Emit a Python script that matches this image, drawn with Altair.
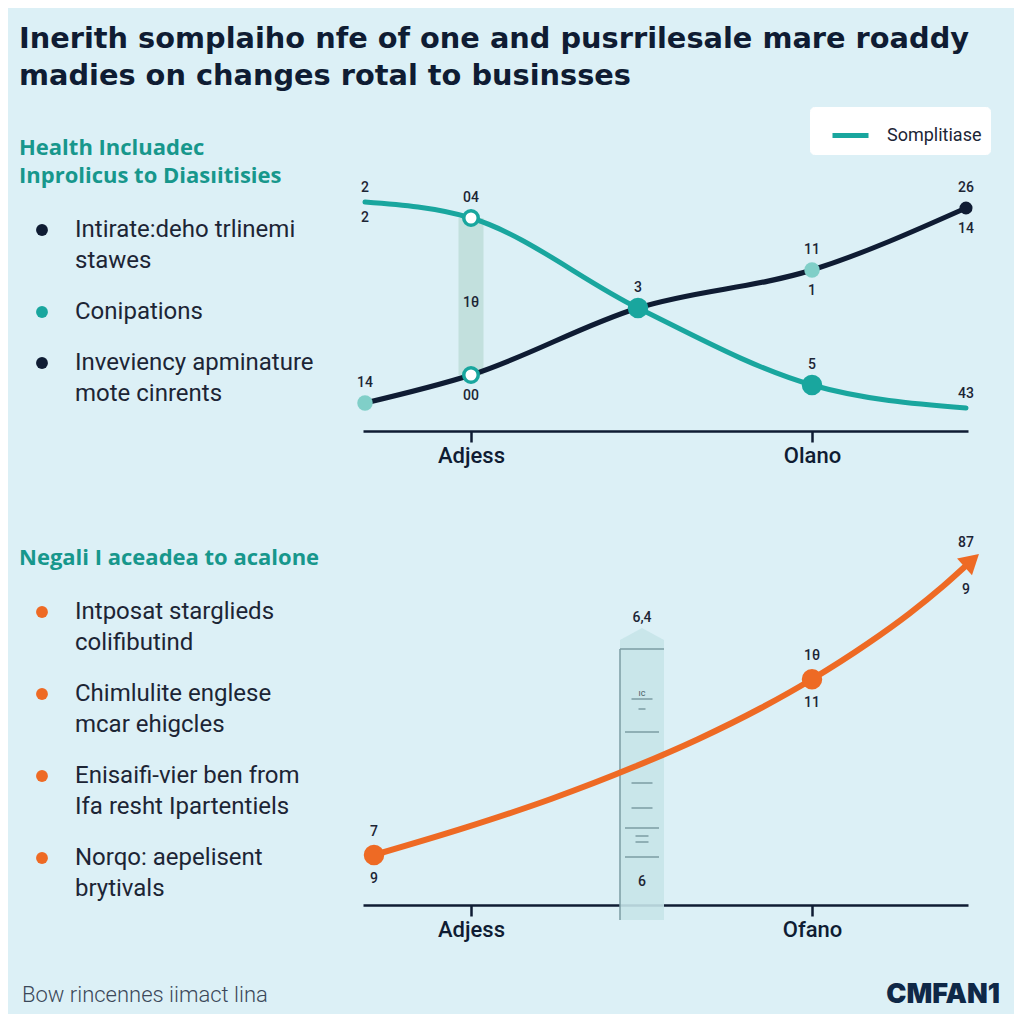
import math
import altair as alt
import pandas as pd

# ---------------- data ----------------
title_lines = [
    "Inerith somplaiho nfe of one and pusrrilesale mare roaddy",
    "madies on changes rotal to businsses",
]
top_heading = ["Health Incluadec", "Inprolicus to Diasıitisies"]
top_items = [
    ["Intirate:deho trlinemi", "stawes"],
    ["Conipations"],
    ["Inveviency apminature", "mote cinrents"],
]
top_item_group = ["navy", "teal", "navy"]

bottom_heading = ["Negali I aceadea to acalone"]
bottom_items = [
    ["Intposat starglieds", "colifibutind"],
    ["Chimlulite englese", "mcar ehigcles"],
    ["Enisaifi-vier ben from", "Ifa resht Ipartentiels"],
    ["Norqo: aepelisent", "brytivals"],
]
bottom_item_group = ["orange", "orange", "orange", "orange"]

footer_left = "Bow rincennes iimact lina"
footer_right = "CMFAN1"

# top chart
top_series_name = "Somplitiase"
top_x = [0.4, 21.6, 55.0, 89.8, 120.6]
teal_vals = [57.25, 53.25, 30.75, 11.5, 5.75]
navy_vals = [7.0, 14.0, 30.75, 40.25, 55.75]
teal_markers = ["none", "hollow", "teal", "teal", "none"]
navy_markers = ["light", "hollow", "none", "light", "dark"]
top_tick_x = [21.6, 89.8]
top_tick_names = ["Adjess", "Olano"]
top_label_text = ["2", "2", "04", "14", "00", "3", "11", "1", "5", "26", "14", "43"]
top_label_series = ["teal", "teal", "teal", "navy", "navy", "teal", "navy", "navy", "teal", "navy", "navy", "teal"]
top_label_index = [0, 0, 1, 0, 1, 2, 3, 3, 3, 4, 4, 4]
top_label_side = ["above_near", "below_near", "above", "above", "below", "above",
                  "above", "below", "above", "above", "below", "above_near"]
band_label = "1θ"

# bottom chart
orange_x = [2.2, 20.6, 37.6, 54.4, 67.0, 79.6, 89.8, 100.8, 109.2, 116.0, 120.6]
orange_vals = [12.5, 19.4, 26.5, 34.6, 41.45, 49.25, 56.45, 65.25, 72.8, 79.7, 84.85]
orange_marker_idx = [0, 6]
bottom_tick_x = [21.6, 89.8]
bottom_tick_names = ["Adjess", "Ofano"]
bottom_label_text = ["7", "9", "1θ", "11", "87", "9"]
bottom_label_index = [0, 0, 6, 6, 10, 10]
bottom_label_side = ["above", "below", "above", "below", "above", "below"]
ruler_x = 55.8
ruler_top = 64.0
ruler_bottom = -3.75
ruler_top_label = "6,4"
ruler_bottom_label = "6"
ruler_bottom_label_v = 5.75
ruler_glyph = "ıc"
ruler_glyph_v = 53.0
ruler_marks = [51.5, 49.0, 43.25, 30.5, 24.25, 19.25, 17.25, 15.75, 12.0]
ruler_mark_kind = ["mid", "tiny", "long", "mid", "mid", "long", "short", "short", "long"]

# ---------------- style / layout ----------------
BG = "#dcf0f6"
NAVY = "#0f1c33"
TEAL = "#19a69e"
TEAL_HEAD = "#17978c"
LIGHT_TEAL = "#80cfc8"
ORANGE = "#ee6a24"
TEXT = "#1c2535"
FONT = "Roboto"

W_LEFT, W_PLOT = 355, 605
H1, H2 = 423, 474
X_DOMAIN = [0, 121]
Y1_DOMAIN = [0, 105.75]
Y2_DOMAIN = [0, 118.5]
PX_X = W_PLOT / (X_DOMAIN[1] - X_DOMAIN[0])
PX_Y1 = H1 / (Y1_DOMAIN[1] - Y1_DOMAIN[0])
PX_Y2 = H2 / (Y2_DOMAIN[1] - Y2_DOMAIN[0])

group_colors = {"navy": NAVY, "teal": TEAL, "orange": ORANGE}


def x_enc(tick_vals, tick_names):
    expr = " : ".join(f"datum.value == {v} ? '{n}'" for v, n in zip(tick_vals, tick_names)) + " : ''"
    return alt.X(
        "x:Q",
        scale=alt.Scale(domain=X_DOMAIN, nice=False, zero=False),
        axis=alt.Axis(values=tick_vals, labelExpr=expr, title=None, grid=False,
                      domainColor=NAVY, domainWidth=2.5, tickColor=NAVY, tickWidth=2.5,
                      tickSize=11, labelFont=FONT, labelFontSize=22, labelFontWeight=500,
                      labelColor=NAVY, labelPadding=3, labelFlush=False, labelOverlap=False),
    )


def y_enc(domain, field="v"):
    return alt.Y(f"{field}:Q", scale=alt.Scale(domain=domain, nice=False, zero=False), axis=None)


PX = alt.X("x:Q", scale=None, axis=None)
PY = alt.Y("y:Q", scale=None, axis=None)


def left_panel(headings, heading_y0, items, groups, height, extra=None):
    head_df = pd.DataFrame({"x": 11, "y": [heading_y0 + i * 28 for i in range(len(headings))],
                            "text": headings})
    rows, dots = [], []
    y = heading_y0 + (len(headings) - 1) * 28 + 54
    for lines, g in zip(items, groups):
        dots.append({"x": 34, "y": y, "g": g})
        for ln in lines:
            rows.append({"x": 67, "y": y, "text": ln})
            y += 31
        y += 51 - 31
    txt_df = pd.DataFrame(rows)
    dot_df = pd.DataFrame(dots)
    heads = alt.Chart(head_df).mark_text(align="left", baseline="middle", font="Open Sans", fontSize=22,
                                         fontWeight="bold", color=TEAL_HEAD).encode(x=PX, y=PY, text="text:N")
    body = alt.Chart(txt_df).mark_text(align="left", baseline="middle", font=FONT, fontSize=24,
                                       color=TEXT).encode(x=PX, y=PY, text="text:N")
    layers = [heads, body]
    for g in sorted(set(groups)):
        layers.append(
            alt.Chart(dot_df).transform_filter(f"datum.g == '{g}'").mark_circle(
                size=140, opacity=1, color=group_colors[g]).encode(x=PX, y=PY))
    layers += (extra or [])
    return alt.layer(*layers).properties(width=W_LEFT, height=height)


# ---------- row 1 left ----------
title_df = pd.DataFrame({"x": 11, "y": [39.5 + i * 37 for i in range(len(title_lines))], "text": title_lines})
title_layer = alt.Chart(title_df).mark_text(align="left", baseline="alphabetic", font="DejaVu Sans",
                                            fontSize=28.8, fontWeight="bold", color=NAVY).encode(
    x=PX, y=PY, text="text:N")
p1 = left_panel(top_heading, 140, top_items, top_item_group, H1, [title_layer])

# ---------- row 1 chart ----------
X1 = x_enc(top_tick_x, top_tick_names)
Y1 = y_enc(Y1_DOMAIN)
top_df = pd.DataFrame({
    "x": top_x + top_x,
    "v": teal_vals + navy_vals,
    "series": [top_series_name] * len(top_x) + ["navy"] * len(top_x),
    "key": ["teal"] * len(top_x) + ["navy"] * len(top_x),
    "marker": teal_markers + navy_markers,
})
band_df = pd.DataFrame({"x": [top_x[1] - 2.5], "x2": [top_x[1] + 2.5],
                        "v": [teal_vals[1]], "v2": [navy_vals[1]]})
band = alt.Chart(band_df).mark_rect(color="#c0dedb", opacity=0.95).encode(
    x=X1, x2="x2:Q", y=Y1, y2="v2:Q")
band_txt = alt.Chart(pd.DataFrame({"x": [top_x[1]], "v": [(teal_vals[1] + navy_vals[1]) / 2],
                                   "text": [band_label]})).mark_text(
    font=FONT, fontSize=14, fontWeight=500, color=TEXT, dy=6).encode(x=X1, y=Y1, text="text:N")

navy_line = alt.Chart(top_df).transform_filter("datum.key == 'navy'").mark_line(
    strokeWidth=5, interpolate="monotone", strokeCap="round", color=NAVY).encode(x=X1, y=Y1)
teal_line = alt.Chart(top_df).transform_filter("datum.key == 'teal'").mark_line(
    strokeWidth=5, interpolate="monotone", strokeCap="round").encode(
    x=X1, y=Y1,
    color=alt.Color("series:N", scale=alt.Scale(domain=[top_series_name], range=[TEAL]),
                    legend=alt.Legend(orient="none", legendX=447, legendY=99, title=None,
                                      symbolType="stroke", symbolStrokeWidth=5, symbolSize=1296,
                                      symbolOffset=12, labelOffset=16, labelFont=FONT, labelFontSize=18,
                                      labelColor=TEXT, fillColor="white", padding=8, cornerRadius=4,
                                      strokeColor="white")))
m_hollow = alt.Chart(top_df).transform_filter("datum.marker == 'hollow'").mark_circle(
    size=210, fill="white", stroke=TEAL, strokeWidth=3.5, opacity=1, fillOpacity=1).encode(x=X1, y=Y1)
m_teal = alt.Chart(top_df).transform_filter("datum.marker == 'teal'").mark_circle(
    size=420, color=TEAL, opacity=1).encode(x=X1, y=Y1)
m_light = alt.Chart(top_df).transform_filter("datum.marker == 'light'").mark_circle(
    size=240, color=LIGHT_TEAL, opacity=1).encode(x=X1, y=Y1)
m_dark = alt.Chart(top_df).transform_filter("datum.marker == 'dark'").mark_circle(
    size=170, color=NAVY, opacity=1).encode(x=X1, y=Y1)

side_px1 = {"above": -20, "below": 21, "above_near": -14, "below_near": 16}
series_vals = {"teal": teal_vals, "navy": navy_vals}
lab1 = pd.DataFrame({
    "x": [top_x[i] for i in top_label_index],
    "v": [series_vals[s][i] - side_px1[sd] / PX_Y1
          for s, i, sd in zip(top_label_series, top_label_index, top_label_side)],
    "text": top_label_text,
})
labels1 = alt.Chart(lab1).mark_text(font=FONT, fontSize=14, fontWeight=500, color=TEXT,
                                    baseline="middle").encode(x=X1, y=Y1, text="text:N")

c1 = alt.layer(band, band_txt, navy_line, teal_line, m_hollow, m_teal, m_light, m_dark, labels1).properties(
    width=W_PLOT, height=H1)

# ---------- row 2 left ----------
footer_l = alt.Chart(pd.DataFrame({"text": [footer_left]})).mark_text(
    align="left", baseline="middle", font=FONT, fontSize=22, fontWeight=300, color="#3b4859").encode(
    x=alt.value(14), y=alt.value(564), text="text:N")
p2 = left_panel(bottom_heading, 127, bottom_items, bottom_item_group, H2, [footer_l])

# ---------- row 2 chart ----------
X2 = x_enc(bottom_tick_x, bottom_tick_names)
Y2 = y_enc(Y2_DOMAIN)
Y2b = y_enc(Y2_DOMAIN, "v2")
HALF = 22 / PX_X
RULER_FILL = "#c6e4e9"
RULER_LINE = "#7b9da3"
ruler_df = pd.DataFrame({"x": [ruler_x - HALF], "x2": [ruler_x + HALF], "v": [ruler_bottom], "v2": [ruler_top]})
ruler_body = alt.Chart(ruler_df).mark_rect(color=RULER_FILL, opacity=0.9).encode(x=X2, x2="x2:Q", y=Y2, y2="v2:Q")
ruler_tip = alt.Chart(pd.DataFrame({"x": [ruler_x], "v": [ruler_top]})).mark_point(
    shape="M-1,0L-1,-0.41L0,-0.95L1,-0.41L1,0Z", filled=True, size=(2 * 22) ** 2,
    color=RULER_FILL, opacity=0.9).encode(x=X2, y=Y2)
ruler_edge = alt.Chart(ruler_df).mark_rule(color=RULER_LINE, strokeWidth=1.5).encode(x=X2, y=Y2, y2="v2:Q")
ruler_cap = alt.Chart(ruler_df).mark_rule(color=RULER_LINE, strokeWidth=1.5).encode(x=X2, x2="x2:Q", y=Y2b)
half_len = {"long": 17 / PX_X, "mid": 10.5 / PX_X, "short": 6.5 / PX_X, "tiny": 3.5 / PX_X}
ticks_df = pd.DataFrame({
    "x": [ruler_x - half_len[k] for k in ruler_mark_kind],
    "x2": [ruler_x + half_len[k] for k in ruler_mark_kind],
    "v": ruler_marks,
})
ruler_ticks = alt.Chart(ticks_df).mark_rule(color=RULER_LINE, strokeWidth=1.5).encode(x=X2, x2="x2:Q", y=Y2)
ruler_txt = alt.Chart(pd.DataFrame({
    "x": [ruler_x, ruler_x],
    "v": [ruler_top + 31 / PX_Y2, ruler_bottom_label_v],
    "text": [ruler_top_label, ruler_bottom_label]})).mark_text(
    font=FONT, fontSize=14, fontWeight=500, color=TEXT, baseline="middle").encode(x=X2, y=Y2, text="text:N")
ruler_g = alt.Chart(pd.DataFrame({"x": [ruler_x], "v": [ruler_glyph_v], "text": [ruler_glyph]})).mark_text(
    font=FONT, fontSize=9, color="#4a6066", baseline="middle").encode(x=X2, y=Y2, text="text:N")

orange_df = pd.DataFrame({"x": orange_x, "v": orange_vals})
orange_line = alt.Chart(orange_df).mark_line(strokeWidth=6, interpolate="monotone", strokeCap="round",
                                             color=ORANGE).encode(x=X2, y=Y2)
dxp = (orange_x[-1] - orange_x[-2]) * PX_X
dyp = (orange_vals[-1] - orange_vals[-2]) * PX_Y2
arrow_angle = 90 - math.degrees(math.atan2(dyp, dxp))
arrow_df = pd.DataFrame({
    "x": [orange_x[-1] + 0.25 * (orange_x[-1] - orange_x[-2])],
    "v": [orange_vals[-1] + 0.25 * (orange_vals[-1] - orange_vals[-2])],
})
arrow = alt.Chart(arrow_df).mark_point(shape="triangle-up", filled=True, size=500, color=ORANGE,
                                       opacity=1, angle=arrow_angle).encode(x=X2, y=Y2)
om_df = pd.DataFrame({"x": [orange_x[i] for i in orange_marker_idx], "v": [orange_vals[i] for i in orange_marker_idx]})
orange_pts = alt.Chart(om_df).mark_circle(size=420, color=ORANGE, opacity=1).encode(x=X2, y=Y2)
side_px2 = {"above": -23, "below": 24}
lab2 = pd.DataFrame({
    "x": [orange_x[i] for i in bottom_label_index],
    "v": [orange_vals[i] - side_px2[sd] / PX_Y2 for i, sd in zip(bottom_label_index, bottom_label_side)],
    "text": bottom_label_text,
})
labels2 = alt.Chart(lab2).mark_text(font=FONT, fontSize=14, fontWeight=500, color=TEXT,
                                    baseline="middle").encode(x=X2, y=Y2, text="text:N")
footer_r = alt.Chart(pd.DataFrame({"text": [footer_right]})).mark_text(
    align="right", baseline="middle", font="Inter", fontSize=27, fontWeight=900, color="#0f2847").encode(
    x=alt.value(637), y=alt.value(564), text="text:N")

c2 = alt.layer(ruler_body, ruler_tip, ruler_edge, ruler_cap, ruler_ticks, ruler_txt, ruler_g,
               orange_line, arrow, orange_pts, labels2, footer_r).properties(width=W_PLOT, height=H2)

chart = alt.concat(p1, c1, p2, c2, columns=2, spacing=0, bounds="flush").resolve_scale(
    color="independent").resolve_legend(color="independent").properties(
    padding={"left": 0, "top": 0, "right": 14, "bottom": 6}
).configure(background=BG).configure_view(stroke=None)

chart.save("out.html", embed_options={"renderer": "svg", "actions": False})
